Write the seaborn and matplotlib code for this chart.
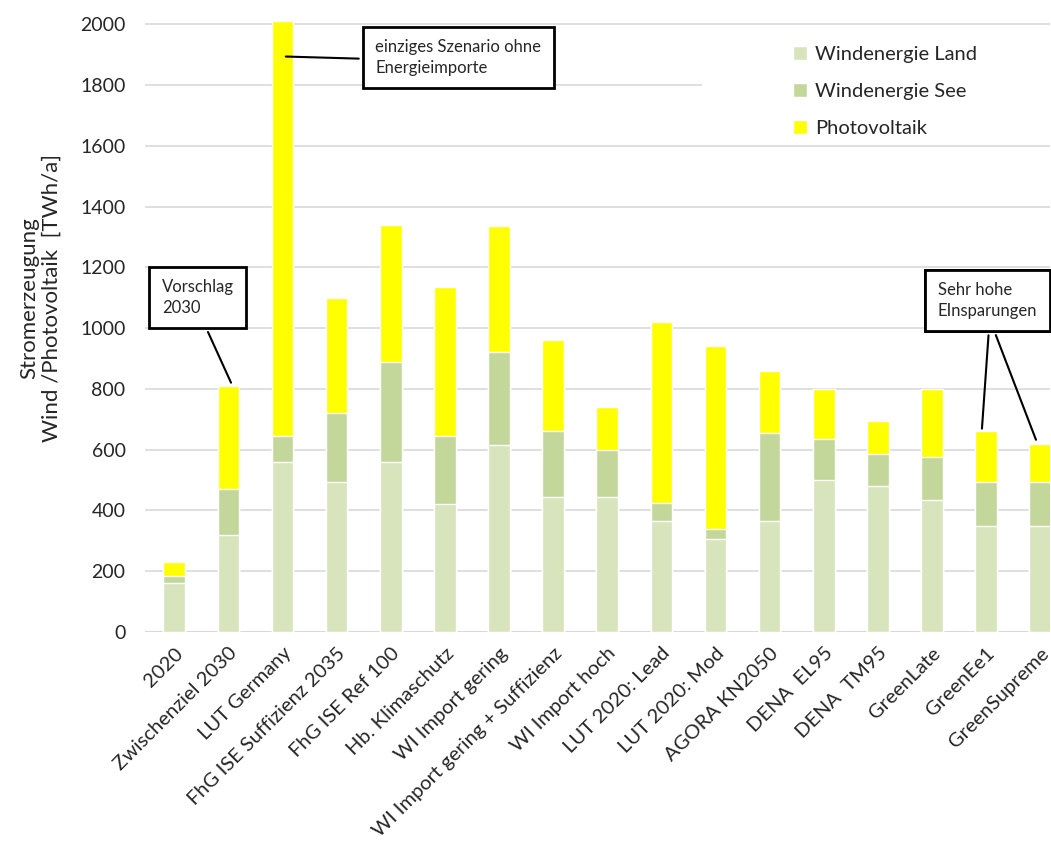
import matplotlib
matplotlib.use("Agg")
import matplotlib.pyplot as plt
from matplotlib.patches import Rectangle
import numpy as np
import pandas as pd
import seaborn as sns

# Szenarien und Werte in TWh/a
szenarien = ["2020", "Zwischenziel 2030", "LUT Germany", "FhG ISE Suffizienz 2035",
             "FhG ISE Ref 100", "Hb. Klimaschutz", "WI Import gering",
             "WI Import gering + Suffizienz", "WI Import hoch", "LUT 2020: Lead",
             "LUT 2020: Mod", "AGORA KN2050", "DENA  EL95", "DENA  TM95",
             "GreenLate", "GreenEe1", "GreenSupreme"]
wind_land = [160, 320, 560, 495, 560, 420, 615, 445, 445, 365, 305, 365, 500, 480, 435, 350, 350]
wind_see = [25, 150, 85, 225, 330, 225, 305, 215, 155, 60, 35, 290, 135, 105, 140, 145, 145]
photovoltaik = [45, 340, 1365, 380, 450, 490, 415, 300, 140, 595, 600, 205, 165, 110, 225, 165, 125]

farben = {"Windenergie Land": "#D8E4BC", "Windenergie See": "#C4D79B", "Photovoltaik": "#FFFF00"}

df = pd.DataFrame({"Szenario": szenarien, "Land": wind_land, "See": wind_see, "PV": photovoltaik})
df["bis_see"] = df["Land"] + df["See"]
df["gesamt"] = df["bis_see"] + df["PV"]

sns.set_style("white")
plt.rcParams["font.family"] = ["Lato", "DejaVu Sans"]

fig = plt.figure(figsize=(10.51, 8.46), dpi=100)
ax = fig.add_axes([0.138, 0.253, 0.861, 0.723])

# gestapelt: erst Gesamt, dann darueber die kleineren Summen
sns.barplot(data=df, x="Szenario", y="gesamt", color=farben["Photovoltaik"], width=0.4,
            saturation=1, ax=ax, label="Photovoltaik", zorder=2)
sns.barplot(data=df, x="Szenario", y="bis_see", color=farben["Windenergie See"], width=0.4,
            saturation=1, ax=ax, label="Windenergie See", zorder=2)
sns.barplot(data=df, x="Szenario", y="Land", color=farben["Windenergie Land"], width=0.4,
            saturation=1, ax=ax, label="Windenergie Land", zorder=2)

ax.set_ylim(0, 2013)
ax.set_xlim(-0.54, 16.18)
ax.set_yticks(np.arange(0, 2001, 200))
ax.yaxis.grid(True, color="#D9D9D9", linewidth=1.2, zorder=0)
ax.set_axisbelow(True)
for s in ["top", "right", "left", "bottom"]:
    ax.spines[s].set_visible(False)
ax.axhline(0, color="#D9D9D9", linewidth=1.5, zorder=1)

ax.tick_params(axis="y", labelsize=14, length=0, pad=14)
ax.tick_params(axis="x", labelsize=14.5, length=0, pad=9)
plt.setp(ax.get_xticklabels(), rotation=45, ha="right", rotation_mode="anchor")
ax.set_xlabel("")
ax.set_ylabel("Stromerzeugung\nWind /Photovoltaik  [TWh/a]", fontsize=16, linespacing=1.15)
ax.yaxis.set_label_coords(-0.092, 0.546)

# weisser Hintergrund des Legendenbereichs (verdeckt die Gitterlinie bei 1800)
ax.add_patch(Rectangle((0.615, 1625), 0.385, 345, transform=ax.get_yaxis_transform(),
                       facecolor="white", edgecolor="none", zorder=1))

# Legende in umgekehrter Reihenfolge (Land oben)
handles, labels = ax.get_legend_handles_labels()
leg = ax.legend(handles[::-1], labels[::-1], loc="upper left", bbox_to_anchor=(0.696, 0.987),
                frameon=False, fontsize=14.5, handlelength=0.7, handleheight=0.7,
                labelspacing=0.97, handletextpad=0.4, borderpad=0.9, borderaxespad=0)

box = dict(boxstyle="square,pad=0.75", facecolor="white", edgecolor="black", linewidth=2)
ax.annotate("einziges Szenario ohne\nEnergieimporte", xy=(2.01, 1894), xytext=(3.71, 1830),
            fontsize=12, bbox=box, va="bottom", ha="left", linespacing=1.35,
            arrowprops=dict(arrowstyle="-", color="black", lw=1.5, relpos=(0, 0.46)))
ax.annotate("Vorschlag\n2030", xy=(1.07, 812), xytext=(-0.23, 1040),
            fontsize=12, bbox=box, va="bottom", ha="left", linespacing=1.35,
            arrowprops=dict(arrowstyle="-", color="black", lw=1.5, relpos=(0.54, 0)))
for xi, yi in [(14.92, 660), (15.94, 624)]:
    ax.annotate("Sehr hohe\nEInsparungen", xy=(xi, yi), xytext=(14.11, 1030),
                fontsize=12, bbox=box, va="bottom", ha="left", linespacing=1.35,
                arrowprops=dict(arrowstyle="-", color="black", lw=1.5, relpos=(0.52, 0)))

fig.savefig("out.png", dpi=100)
